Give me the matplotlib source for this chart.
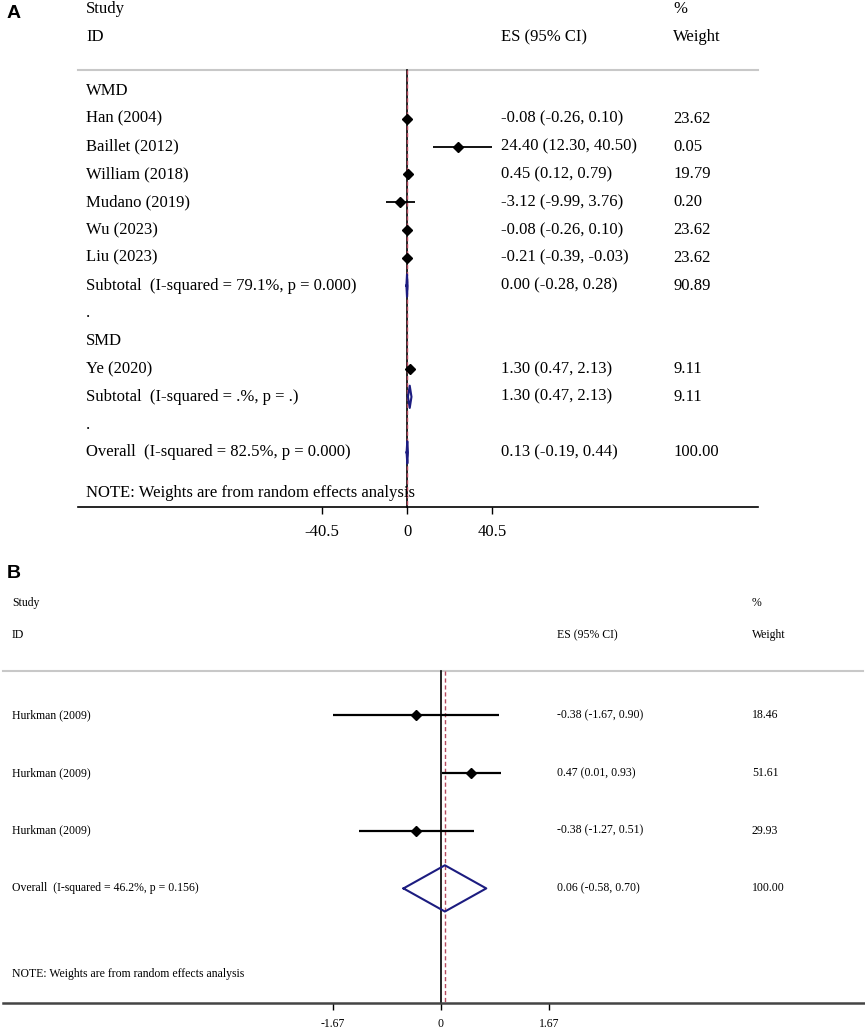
import matplotlib
matplotlib.use("Agg")
import matplotlib.pyplot as plt

# ---- panel A data ----
group_names_a = ["WMD", "SMD"]
studies_a = ["Han (2004)", "Baillet (2012)", "William (2018)", "Mudano (2019)",
             "Wu (2023)", "Liu (2023)", "Ye (2020)"]
study_group_a = ["WMD", "WMD", "WMD", "WMD", "WMD", "WMD", "SMD"]
es_a = [-0.08, 24.40, 0.45, -3.12, -0.08, -0.21, 1.30]
lo_a = [-0.26, 12.30, 0.12, -9.99, -0.26, -0.39, 0.47]
hi_a = [0.10, 40.50, 0.79, 3.76, 0.10, -0.03, 2.13]
wt_a = ["23.62", "0.05", "19.79", "0.20", "23.62", "23.62", "9.11"]

sub_label_a = ["Subtotal  (I-squared = 79.1%, p = 0.000)",
               "Subtotal  (I-squared = .%, p = .)"]
sub_es_a = [0.00, 1.30]
sub_lo_a = [-0.28, 0.47]
sub_hi_a = [0.28, 2.13]
sub_wt_a = ["90.89", "9.11"]

overall_label_a = "Overall  (I-squared = 82.5%, p = 0.000)"
overall_a = [0.13, -0.19, 0.44]
overall_wt_a = "100.00"
ticks_a = [-40.5, 0, 40.5]

# ---- panel B data ----
studies_b = ["Hurkman (2009)", "Hurkman (2009)", "Hurkman (2009)"]
es_b = [-0.38, 0.47, -0.38]
lo_b = [-1.67, 0.01, -1.27]
hi_b = [0.90, 0.93, 0.51]
wt_b = ["18.46", "51.61", "29.93"]
overall_label_b = "Overall  (I-squared = 46.2%, p = 0.156)"
overall_b = [0.06, -0.58, 0.70]
overall_wt_b = "100.00"
ticks_b = [-1.67, 0, 1.67]

note = "NOTE: Weights are from random effects analysis"

W, H = 865, 1029
plt.rcParams['font.family'] = ['Liberation Serif', 'DejaVu Serif']
NAVY = '#1c1c80'
REF = '#b5485d'

fig = plt.figure(figsize=(W / 100, H / 100), dpi=100)


def make_panel(top_px, bottom_px, zero_px, px_unit, row0_px, row_px):
    ax = fig.add_axes([0, 1 - bottom_px / H, 1, (bottom_px - top_px) / H])
    ax.set_xlim(-zero_px / px_unit, (W - zero_px) / px_unit)
    ax.set_ylim((bottom_px - row0_px) / row_px, (top_px - row0_px) / row_px)
    for s in ['left', 'right', 'top']:
        ax.spines[s].set_visible(False)
    ax.tick_params(left=False, labelleft=False)
    return ax


def fmt(es, lo, hi):
    return f"{es:.2f} ({lo:.2f}, {hi:.2f})"


def draw_study(ax, y, es, lo, hi, lw):
    ax.plot([lo, hi], [y, y], color='black', lw=lw, solid_capstyle='butt', zorder=3)
    ax.plot([es], [y], marker='D', ms=5, color='black', zorder=4)


def draw_diamond(ax, y, es, lo, hi):
    ax.plot([lo, es, hi, es, lo], [y, y - 0.4, y, y + 0.4, y], color=NAVY, lw=1.5, zorder=4)


def panel_axis(ax, row, x0_px, x1_px, ticks, size, color, lw, pad):
    sp = ax.spines['bottom']
    sp.set_position(('data', row))
    xl = ax.get_xlim()
    px_unit = W / (xl[1] - xl[0])
    sp.set_bounds(xl[0] + x0_px / px_unit, xl[0] + x1_px / px_unit)
    sp.set_color(color)
    sp.set_linewidth(lw)
    ax.set_xticks(ticks)
    ax.set_xticklabels([f"{t:g}" for t in ticks])
    ax.tick_params(axis='x', length=5, width=1, pad=pad, labelsize=size, colors='black')


# ================= panel A =================
axA = make_panel(0, 560, 407, 85 / 40.5, 91, 27.8)
tA = axA.get_yaxis_transform()
fsA = 12
col_lab, col_es, col_wt = 86 / W, 501 / W, 673 / W

axA.text(col_lab, -2.95, "Study", transform=tA, fontsize=fsA, va='center')
axA.text(col_lab, -1.94, "ID", transform=tA, fontsize=fsA, va='center')
axA.text(col_es, -1.94, "ES (95% CI)", transform=tA, fontsize=fsA, va='center')
axA.text(col_wt, -2.95, "%", transform=tA, fontsize=fsA, va='center')
axA.text(col_wt, -1.94, "Weight", transform=tA, fontsize=fsA, va='center')
axA.plot([78 / W, 758 / W], [-0.76, -0.76], transform=tA, color='#c8c8c8', lw=1.5)

row = 0
for gi, g in enumerate(group_names_a):
    axA.text(col_lab, row, g, transform=tA, fontsize=fsA, va='center')
    row += 1
    for i, s in enumerate(studies_a):
        if study_group_a[i] != g:
            continue
        draw_study(axA, row, es_a[i], lo_a[i], hi_a[i], 1.3)
        axA.text(col_lab, row, s, transform=tA, fontsize=fsA, va='center')
        axA.text(col_es, row, fmt(es_a[i], lo_a[i], hi_a[i]), transform=tA, fontsize=fsA, va='center')
        axA.text(col_wt, row, wt_a[i], transform=tA, fontsize=fsA, va='center')
        row += 1
    draw_diamond(axA, row, sub_es_a[gi], sub_lo_a[gi], sub_hi_a[gi])
    axA.text(col_lab, row, sub_label_a[gi], transform=tA, fontsize=fsA, va='center')
    axA.text(col_es, row, fmt(sub_es_a[gi], sub_lo_a[gi], sub_hi_a[gi]), transform=tA, fontsize=fsA, va='center')
    axA.text(col_wt, row, sub_wt_a[gi], transform=tA, fontsize=fsA, va='center')
    row += 1
    axA.text(col_lab, row, ".", transform=tA, fontsize=fsA, va='center')
    row += 1

draw_diamond(axA, row, *overall_a)
axA.text(col_lab, row, overall_label_a, transform=tA, fontsize=fsA, va='center')
axA.text(col_es, row, fmt(*overall_a), transform=tA, fontsize=fsA, va='center')
axA.text(col_wt, row, overall_wt_a, transform=tA, fontsize=fsA, va='center')
axA.text(col_lab, row + 1.46, note, transform=tA, fontsize=fsA, va='center')

axA.plot([0, 0], [-0.76, 14.96], color='black', lw=1.2, zorder=2)
axA.plot([overall_a[0]] * 2, [-0.76, 14.96], color=REF, lw=1, dashes=(3, 2), zorder=2)
panel_axis(axA, 14.96, 78, 758, ticks_a, fsA, 'black', 1.2, 7)

# ================= panel B =================
axB = make_panel(560, 1029, 441, 108 / 1.67, 715, 57.8)
tB = axB.get_yaxis_transform()
fsB = 8.5
col_lab, col_es, col_wt = 12 / W, 557 / W, 752 / W

axB.text(col_lab, -1.94, "Study", transform=tB, fontsize=fsB, va='center')
axB.text(col_lab, -1.38, "ID", transform=tB, fontsize=fsB, va='center')
axB.text(col_es, -1.38, "ES (95% CI)", transform=tB, fontsize=fsB, va='center')
axB.text(col_wt, -1.94, "%", transform=tB, fontsize=fsB, va='center')
axB.text(col_wt, -1.38, "Weight", transform=tB, fontsize=fsB, va='center')
axB.plot([3 / W, 863 / W], [-0.76, -0.76], transform=tB, color='#c8c8c8', lw=1.5)

for i, s in enumerate(studies_b):
    draw_study(axB, i, es_b[i], lo_b[i], hi_b[i], 1.6)
    axB.text(col_lab, i, s, transform=tB, fontsize=fsB, va='center')
    axB.text(col_es, i, fmt(es_b[i], lo_b[i], hi_b[i]), transform=tB, fontsize=fsB, va='center')
    axB.text(col_wt, i, wt_b[i], transform=tB, fontsize=fsB, va='center')

ov_row = len(studies_b)
draw_diamond(axB, ov_row, *overall_b)
axB.text(col_lab, ov_row, overall_label_b, transform=tB, fontsize=fsB, va='center')
axB.text(col_es, ov_row, fmt(*overall_b), transform=tB, fontsize=fsB, va='center')
axB.text(col_wt, ov_row, overall_wt_b, transform=tB, fontsize=fsB, va='center')
axB.text(col_lab, 4.48, note, transform=tB, fontsize=fsB, va='center')

axB.plot([0, 0], [-0.76, 4.98], color='black', lw=1.2, zorder=2)
axB.plot([overall_b[0]] * 2, [-0.76, 4.98], color=REF, lw=1, dashes=(3, 2), zorder=2)
panel_axis(axB, 4.98, 3, 865, ticks_b, fsB, '#444444', 1.8, 6)

# panel letters
fig.text(7 / W, 1 - 14 / H, "A", family='Liberation Sans', weight='bold', fontsize=14, va='center')
fig.text(7 / W, 1 - 574 / H, "B", family='Liberation Sans', weight='bold', fontsize=14, va='center')

fig.savefig("out.png", dpi=100)
